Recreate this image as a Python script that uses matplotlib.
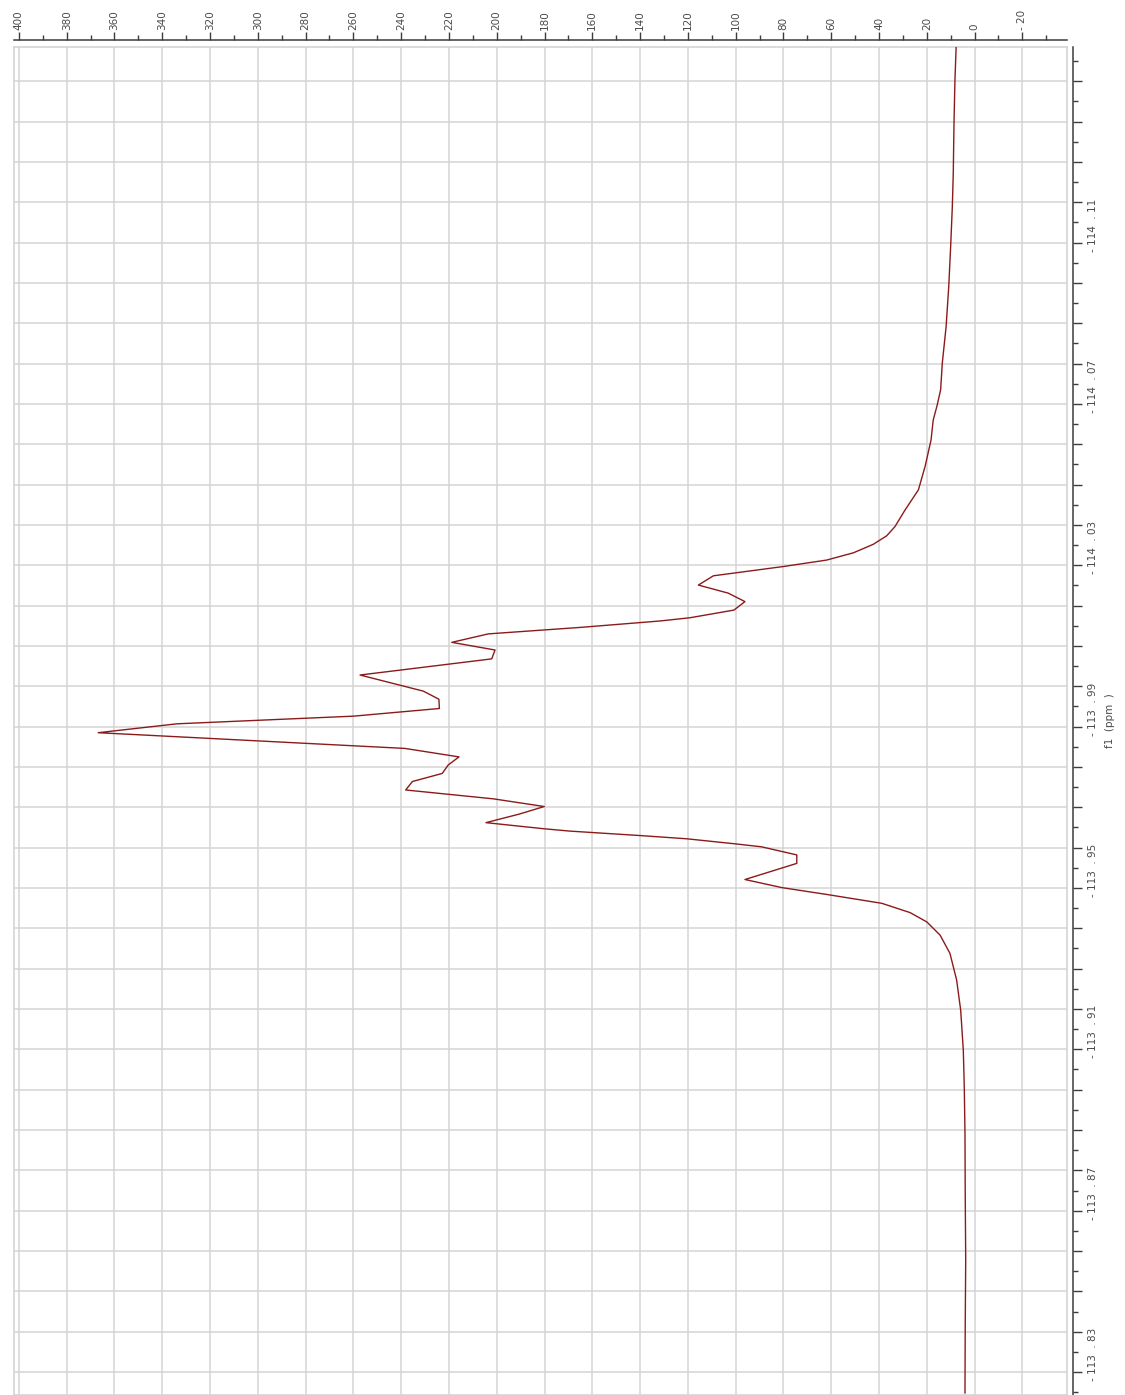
import numpy as np
import matplotlib
matplotlib.use("Agg")
import matplotlib.pyplot as plt
from matplotlib.ticker import FixedLocator, FixedFormatter, MultipleLocator

# ---- data ----
# chemical shift (ppm) along the vertical axis, intensity along the horizontal axis
shift_ppm = [
    -114.1486, -114.1403, -114.1297, -114.1173, -114.1089, -114.0990, -114.0891,
    -114.0792, -114.0701, -114.0635, -114.0598, -114.0560, -114.0511, -114.0445,
    -114.0387, -114.0337, -114.0296, -114.0273, -114.0252, -114.0231, -114.0213,
    -114.0197, -114.0174, -114.0151, -114.0131, -114.0110, -114.0089, -114.0070,
    -114.0062, -114.0046, -114.0030, -114.0009, -113.9990, -113.9968, -113.9928,
    -113.9888, -113.9868, -113.9845, -113.9826, -113.9807, -113.9785, -113.9746,
    -113.9725, -113.9705, -113.9684, -113.9664, -113.9643, -113.9621, -113.9602,
    -113.9583, -113.9562, -113.9547, -113.9541, -113.9530, -113.9522, -113.9509,
    -113.9502, -113.9482, -113.9461, -113.9421, -113.9401, -113.9384, -113.9362,
    -113.9339, -113.9316, -113.9283, -113.9238, -113.9172, -113.9097, -113.8998,
    -113.8907, -113.8792, -113.8644, -113.8478, -113.8312, -113.8148,
]
intensity = [
    7.7, 8.2, 8.6, 8.9, 9.3, 10.0, 10.8,
    11.9, 13.5, 14.2, 15.6, 17.3, 18.2, 20.7,
    23.5, 29.1, 33.3, 36.8, 42.4, 50.7, 61.9,
    80.0, 109.3, 115.6, 103.1, 96.1, 100.7, 119.1,
    131.6, 165.1, 203.5, 218.8, 200.7, 202.1, 257.2,
    230.7, 224.2, 224.0, 260.0, 333.9, 366.8, 238.4,
    215.8, 220.3, 222.8, 235.3, 238.1, 201.4, 180.1,
    190.7, 204.5, 180.5, 169.3, 140.0, 120.5, 99.5,
    89.1, 74.4, 74.4, 96.1, 80.7, 61.9, 38.8,
    27.0, 20.0, 14.4, 10.3, 7.5, 5.8, 4.7,
    4.3, 4.0, 3.9, 3.7, 3.9, 4.0,
]

x_tick_values = [400, 380, 360, 340, 320, 300, 280, 260, 240, 220, 200, 180,
                 160, 140, 120, 100, 80, 60, 40, 20, 0, -20]
x_tick_labels = ["400", "380", "360", "340", "320", "300", "280", "260", "240",
                 "220", "200", "180", "160", "140", "120", "100", "80", "60",
                 "40", "20", "0", "- 20"]

y_label_values = [-114.11, -114.07, -114.03, -113.99, -113.95, -113.91, -113.87, -113.83]
y_label_texts = ["- 114  . 11", "- 114  . 07", "- 114  . 03", "- 113  . 99",
                 "- 113  . 95", "- 113  . 91", "- 113  . 87", "- 113  . 83"]

# ---- figure ----
W, H = 1125, 1395
fig = plt.figure(figsize=(W / 100, H / 100), dpi=100)
left_px, right_px, top_px = 14, 1067, 47
ax = fig.add_axes([left_px / W, 0, (right_px - left_px) / W, (H - top_px) / H])

line_color = "#8b1a1a"
grid_color = "#d4d4d4"
spine_color = "#3c3c3c"
text_color = "#4a4a4a"

ax.plot(intensity, shift_ppm, color=line_color, lw=1.0, zorder=3)

ax.set_xlim(402.05, -38.7)
ax.set_ylim(-113.8143, -114.1485)

# top axis
ax.xaxis.tick_top()
ax.xaxis.set_major_locator(FixedLocator(x_tick_values))
ax.xaxis.set_major_formatter(FixedFormatter(x_tick_labels))
ax.xaxis.set_minor_locator(MultipleLocator(10))
ax.tick_params(axis="x", which="major", direction="out", length=6, width=1.0,
               color=spine_color, pad=1, labelsize=7.5, labelcolor=text_color,
               labelrotation=90)
ax.tick_params(axis="x", which="minor", direction="out", length=3.5, width=1.0,
               color=spine_color)
for lbl in ax.get_xticklabels():
    lbl.set_ha("right")

# right axis
ax.yaxis.tick_right()
y_major = np.round(np.arange(-114.14, -113.815, 0.01), 2)
y_major_labels = []
for v in y_major:
    s = ""
    for lv, lt in zip(y_label_values, y_label_texts):
        if abs(v - lv) < 1e-6:
            s = lt
    y_major_labels.append(s)
ax.yaxis.set_major_locator(FixedLocator(y_major))
ax.yaxis.set_major_formatter(FixedFormatter(y_major_labels))
ax.yaxis.set_minor_locator(MultipleLocator(0.005))
ax.tick_params(axis="y", which="major", direction="out", length=6.5, width=1.0,
               color=spine_color, pad=4, labelsize=7.5, labelcolor=text_color,
               labelrotation=90)
ax.tick_params(axis="y", which="minor", direction="out", length=3.5, width=1.0,
               color=spine_color)
for lbl in ax.get_yticklabels():
    lbl.set_va("center")

ax.yaxis.set_label_position("right")
ax.set_ylabel("f1  (ppm  )", rotation=90, fontsize=7.5, color=text_color, labelpad=5)

# grid
ax.grid(True, which="major", color=grid_color, lw=1.1, zorder=0)
ax.set_axisbelow(True)

# spines
ax.spines["top"].set_position(("outward", 5))
ax.spines["right"].set_position(("outward", 4.5))
for s in ("top", "right"):
    ax.spines[s].set_color(spine_color)
    ax.spines[s].set_linewidth(1.1)
for s in ("left", "bottom"):
    ax.spines[s].set_color(grid_color)
    ax.spines[s].set_linewidth(1.2)
ax.plot([0, 1], [1, 1], transform=ax.transAxes, color=grid_color, lw=1.2,
        clip_on=False, zorder=1)
ax.plot([1, 1], [0, 1], transform=ax.transAxes, color=grid_color, lw=1.2,
        clip_on=False, zorder=1)

fig.savefig("out.png", dpi=100)
